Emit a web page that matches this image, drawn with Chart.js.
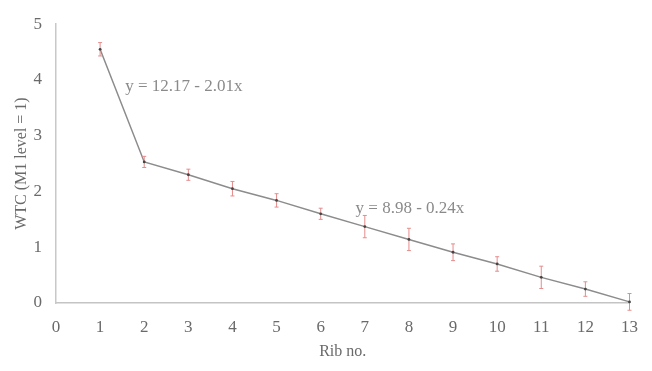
<!DOCTYPE html>
<html>
<head>
<meta charset="utf-8">
<script src="https://cdn.jsdelivr.net/npm/chart.js@4/dist/chart.umd.min.js"></script>
<style>
html,body{margin:0;padding:0;background:#fff;}
#wrap{width:652px;height:371px;position:relative;}
</style>
</head>
<body>
<div id="wrap"><canvas id="c" width="652" height="371"></canvas></div>
<script>
const ribs = [1,2,3,4,5,6,7,8,9,10,11,12,13];
const wtc = [4.55,2.53,2.30,2.05,1.84,1.60,1.37,1.14,0.91,0.70,0.46,0.25,0.02];
const errs = [0.12,0.10,0.10,0.13,0.12,0.10,0.20,0.20,0.15,0.13,0.20,0.13,0.15];
const xTicks = [0,1,2,3,4,5,6,7,8,9,10,11,12,13];
const yTicks = [0,1,2,3,4,5];
const equations = ["y = 12.17 - 2.01x", "y = 8.98 - 0.24x"];
const eqAnchors = [[1.57,3.88],[6.79,1.70]];

const FONT = "'Liberation Serif', 'DejaVu Serif', serif";

const errorBars = {
  id: 'errorBars',
  afterDatasetsDraw(chart){
    const {ctx, scales:{x,y}} = chart;
    ctx.save();
    ctx.strokeStyle = '#e58c8c';
    ctx.lineWidth = 1;
    ribs.forEach((r,i)=>{
      const px = x.getPixelForValue(r);
      const top = y.getPixelForValue(wtc[i]+errs[i]);
      const bot = y.getPixelForValue(wtc[i]-errs[i]);
      ctx.beginPath();
      ctx.moveTo(px, top); ctx.lineTo(px, bot);
      ctx.moveTo(px-2, top); ctx.lineTo(px+2, top);
      ctx.moveTo(px-2, bot); ctx.lineTo(px+2, bot);
      ctx.stroke();
    });
    ctx.fillStyle = '#444';
    ribs.forEach((r,i)=>{
      ctx.beginPath();
      ctx.arc(x.getPixelForValue(r), y.getPixelForValue(wtc[i]), 1.4, 0, Math.PI*2);
      ctx.fill();
    });
    ctx.fillStyle = '#8a8a8a';
    ctx.font = "17px " + FONT;
    ctx.textBaseline = 'middle';
    ctx.textAlign = 'left';
    equations.forEach((t,i)=>{
      ctx.fillText(t, x.getPixelForValue(eqAnchors[i][0]), y.getPixelForValue(eqAnchors[i][1]));
    });
    ctx.restore();
  }
};

new Chart(document.getElementById('c'), {
  type: 'line',
  data: {
    datasets: [{
      data: ribs.map((r,i)=>({x:r, y:wtc[i]})),
      borderColor: '#8c8c8c',
      borderWidth: 1.5,
      pointRadius: 0,
      tension: 0,
      fill: false
    }]
  },
  options: {
    responsive: false,
    animation: false,
    devicePixelRatio: 1,
    layout: {padding: {top: 17, right: 18, left: 0, bottom: 0}},
    plugins: {legend: {display: false}, tooltip: {enabled: false}},
    scales: {
      x: {
        type: 'linear', min: 0, max: 13,
        afterBuildTicks(s){ s.ticks = xTicks.map(v=>({value:v})); },
        afterFit(s){ s.height = 68; },
        grid: {display: false, drawTicks: false},
        border: {display: true, color: '#c4c4c4', width: 1.5},
        ticks: {color: '#6a6a6a', font: {family: FONT, size: 17}, padding: 14, maxRotation: 0, autoSkip: false},
        title: {display: true, text: 'Rib no.', color: '#6a6a6a', font: {family: FONT, size: 16}, padding: {top: 0, bottom: 10}}
      },
      y: {
        type: 'linear', min: 0, max: 5,
        afterBuildTicks(s){ s.ticks = yTicks.map(v=>({value:v})); },
        afterFit(s){ s.width = 56; },
        grid: {display: false, drawTicks: false},
        border: {display: true, color: '#c8c8c8', width: 1.5},
        ticks: {color: '#6a6a6a', font: {family: FONT, size: 17}, padding: 14},
        title: {display: true, text: 'WTC (M1 level = 1)', color: '#6a6a6a', font: {family: FONT, size: 16}, padding: {top: 12, bottom: 0}}
      }
    }
  },
  plugins: [errorBars]
});
</script>
</body>
</html>
